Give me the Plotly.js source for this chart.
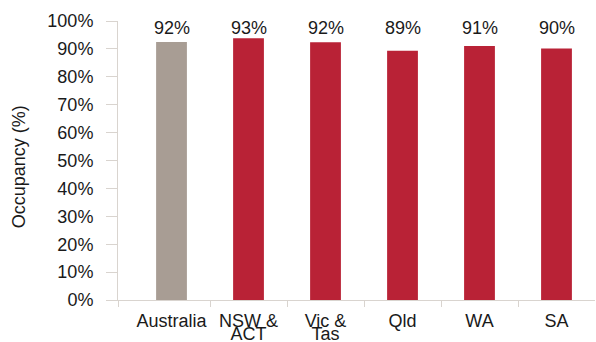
<!DOCTYPE html>
<html>
<head>
<meta charset="utf-8">
<script src="https://cdn.plot.ly/plotly-3.0.1.min.js"></script>
<style>html,body{margin:0;padding:0;background:#fff;}#chart{width:596px;height:342px;}</style>
</head>
<body>
<div id="chart"></div>
<script>
const categoriesLine1 = ["Australia", "NSW &", "Vic &", "Qld", "WA", "SA"];
const categoriesLine2 = ["", "ACT", "Tas", "", "", ""];
const occupancy = [92.5, 93.8, 92.4, 89.3, 91.0, 90.1];
const labels = ["92%", "93%", "92%", "89%", "91%", "90%"];
const barColors = ["#a89d94", "#b92236", "#b92236", "#b92236", "#b92236", "#b92236"];
const yTickVals = [0, 10, 20, 30, 40, 50, 60, 70, 80, 90, 100];
const yTickText = yTickVals.map(v => v + "%");
const boundaries = [-0.69, 0.5, 1.5, 2.5, 3.5, 4.5];
const yTitle = "Occupancy (%)";

const xIdx = categoriesLine1.map((_, i) => i);
const font = {family: "Liberation Sans, Arial, Helvetica, sans-serif", size: 18, color: "#1a1a1a"};
const axisColor = "#d9d4cf";
const xRange = [-0.695, 5.5];

const traces = [
  {type: "bar", x: xIdx, y: occupancy, width: 0.4, marker: {color: barColors}, hoverinfo: "skip", xaxis: "x", yaxis: "y"},
  {type: "scatter", mode: "markers", x: [0], y: [0], marker: {opacity: 0}, xaxis: "x2", yaxis: "y", hoverinfo: "skip", showlegend: false},
  {type: "scatter", mode: "markers", x: [0], y: [0], marker: {opacity: 0}, xaxis: "x3", yaxis: "y", hoverinfo: "skip", showlegend: false}
];

const annotations = labels.map((t, i) => ({
  x: i, y: 100, xref: "x", yref: "y", text: t, showarrow: false,
  yanchor: "top", yshift: 5, font: font
}));
annotations.push({
  x: -0.207, y: 0.477, xref: "paper", yref: "paper", text: yTitle, textangle: -90,
  showarrow: false, xanchor: "center", yanchor: "middle", font: font
});

const layout = {
  width: 596, height: 342,
  margin: {l: 118, r: 1, t: 21, b: 42, pad: 0},
  paper_bgcolor: "#fff", plot_bgcolor: "#fff",
  showlegend: false,
  font: font,
  xaxis: {
    range: xRange, tickvals: xIdx, ticktext: categoriesLine1, ticks: "",
    showline: true, linecolor: axisColor, linewidth: 1, showgrid: false, zeroline: false,
    tickfont: font, ticklabelstandoff: 4, fixedrange: true
  },
  xaxis2: {
    overlaying: "x", side: "bottom", range: xRange, tickvals: boundaries,
    ticks: "outside", ticklen: 6, tickcolor: axisColor, tickwidth: 1,
    showticklabels: false, showline: false, showgrid: false, zeroline: false
  },
  xaxis3: {
    overlaying: "x", side: "bottom", range: xRange, tickvals: xIdx, ticktext: categoriesLine2,
    ticks: "", tickfont: font, ticklabelstandoff: 21,
    showline: false, showgrid: false, zeroline: false
  },
  yaxis: {
    range: [0, 100], tickvals: yTickVals, ticktext: yTickText,
    ticks: "outside", ticklen: 11, tickcolor: axisColor, tickwidth: 1,
    showline: true, linecolor: axisColor, linewidth: 1, showgrid: false, zeroline: false,
    tickfont: font, ticklabelstandoff: 9
  },
  annotations: annotations
};

Plotly.newPlot("chart", traces, layout, {displayModeBar: false, staticPlot: true});
</script>
</body>
</html>
